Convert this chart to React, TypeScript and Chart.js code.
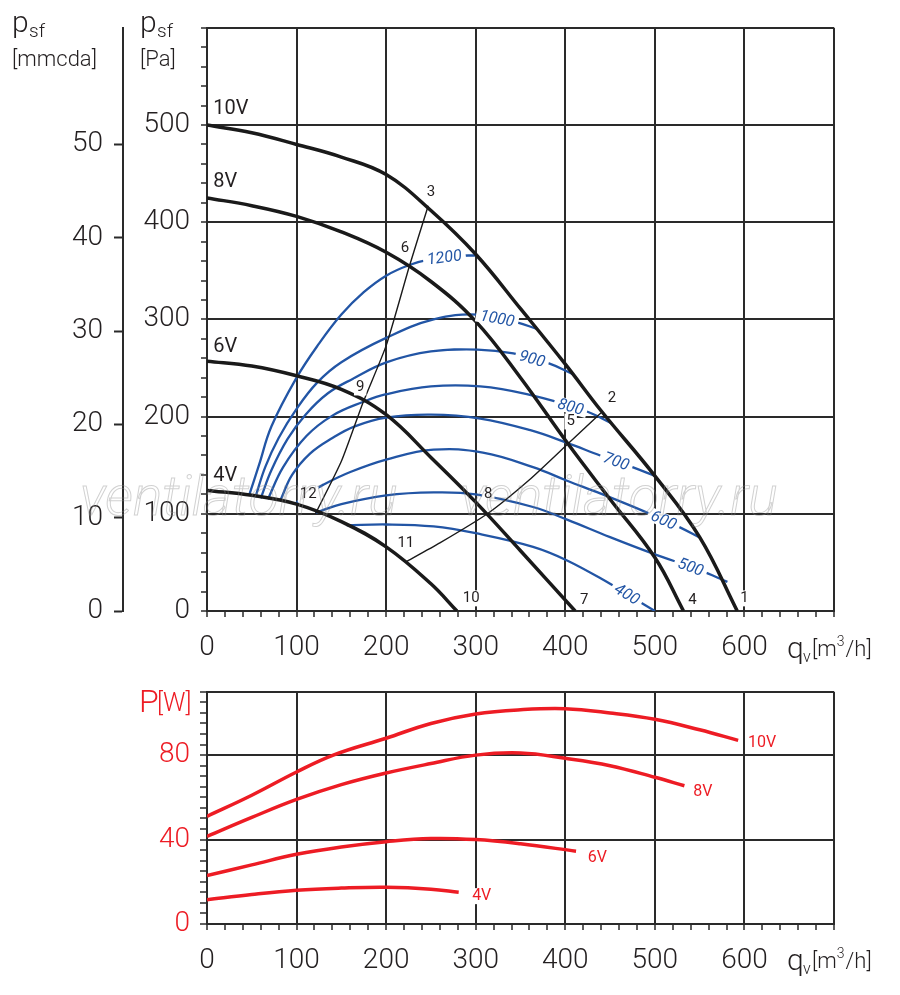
import { useEffect, useRef } from 'react';
import Chart from 'chart.js/auto';

const FONT = 'Roboto, "DejaVu Sans", sans-serif';
const INK = '#231f20';
const GRID = '#2a2a2a';
const BLUE = '#2255a5';
const RED = '#ed1c24';

// ---- pressure chart: qv [m3/h] -> psf [Pa]
const fan10V = [[0, 500], [50, 492], [100, 480], [150, 467], [200, 449], [250, 412], [300, 367], [350, 311], [400, 254], [440, 206], [500, 139], [550, 76], [592, 0]];
const fan8V = [[0, 425], [50, 417], [100, 406], [150, 390], [200, 369], [250, 339], [300, 298], [350, 240], [403, 172], [450, 115], [500, 55], [532, 0]];
const fan6V = [[0, 257], [50, 252], [100, 242], [150, 228], [200, 202], [250, 158], [300, 112], [350, 62], [411, 0]];
const fan4V = [[0, 124], [50, 119], [100, 110], [150, 92], [200, 66], [250, 28], [279, 0]];
const fanNames = ['10V', '8V', '6V', '4V'];
const fanLabelP = [516, 441, 272, 139];

// system lines through the operating points
const lineA = [[121, 100], [150, 154], [174, 214], [200, 273], [226, 355], [247, 417]];
const lineB = [[221, 50], [260, 70], [313, 100], [360, 135], [403, 172], [440, 204]];

// iso curves (blue)
const rpm1200 = [[47, 119], [58, 150], [72, 190], [100, 240], [125, 275], [150, 305], [175, 328], [200, 345], [226, 356], [250, 362], [275, 365], [302, 366]];
const rpm1000 = [[54, 117], [65, 148], [80, 178], [100, 208], [123, 235], [150, 256], [200, 281], [253, 300], [302, 305], [346, 297], [369, 290]];
const rpm900 = [[60, 116], [72, 145], [90, 177], [110, 202], [135, 224], [163, 239], [201, 256], [250, 267], [302, 269], [342, 265], [381, 255], [408, 244]];
const rpm800 = [[68, 115], [85, 148], [111, 180], [140, 201], [174, 215], [200, 223], [250, 231], [305, 231], [357, 223], [422, 206], [452, 193]];
const rpm700 = [[82, 114], [95, 140], [115, 162], [140, 178], [165, 190], [200, 199], [250, 202], [305, 198], [361, 186], [402, 173], [439, 160], [475, 148], [500, 139]];
const rpm600 = [[98, 110], [112, 120], [130, 130], [160, 143], [201, 156], [253, 166], [308, 163], [364, 148], [402, 134], [439, 121], [492, 101], [528, 86], [551, 75]];
const rpm500 = [[121, 101], [150, 110], [200, 119], [253, 122], [300, 120], [364, 107], [402, 94], [450, 76], [498, 59], [550, 42], [581, 30]];
const rpm400 = [[156, 88], [200, 89], [253, 87], [300, 80], [364, 66], [402, 52], [450, 28], [475, 14], [500, 0]];
const rpmCurves = [rpm1200, rpm1000, rpm900, rpm800, rpm700, rpm600, rpm500, rpm400];
const rpmNames = ['1200', '1000', '900', '800', '700', '600', '500', '400'];
const rpmLabelQ = [265, 324, 363, 406, 457, 510, 540, 469];

// numbered operating points
const opNames = ['1', '2', '3', '4', '5', '6', '7', '8', '9', '10', '11', '12'];
const opQ = [600, 452, 250, 542, 406, 221, 421, 314, 171, 295, 222, 113];
const opP = [13, 219, 431, 11, 195, 373, 11, 120, 230, 13, 70, 120];
const opBoxed = ['1', '5', '8', '9', '10', '12'];

// ---- power chart: qv [m3/h] -> P [W]
const pow10V = [[0, 51], [50, 61], [100, 72], [141, 80], [200, 88], [250, 95], [300, 99.5], [350, 101.5], [400, 102], [450, 100], [500, 97], [550, 92], [593, 87]];
const pow8V = [[0, 41.5], [50, 50.5], [100, 59], [150, 66], [200, 71.5], [250, 76], [300, 80], [350, 81], [400, 78.5], [450, 75], [500, 69.5], [533, 65.5]];
const pow6V = [[0, 23], [50, 28], [100, 33], [150, 36.5], [200, 39], [250, 40.5], [300, 40], [350, 38], [412, 34.5]];
const pow4V = [[0, 11.5], [50, 14], [100, 16], [150, 17], [200, 17.4], [250, 16.5], [281, 15]];
const powLabelQ = [604, 543, 425, 296];
const powLabelP = [85.6, 62.5, 31.5, 13.2];

const pts = (c: number[][]) => c.map(([x, y]) => ({ x, y }));

const interp = (c: number[][], q: number) => {
    for (let i = 1; i < c.length; i++) {
        const [q0, p0] = c[i - 1];
        const [q1, p1] = c[i];
        if (q <= q1) return p0 + (p1 - p0) * (q - q0) / (q1 - q0);
    }
    return c[c.length - 1][1];
};

const line = (data: number[][], color: string, width: number, tension = 0.4) => ({
    data: pts(data),
    borderColor: color,
    borderWidth: width,
    pointRadius: 0,
    tension,
    fill: false,
});

const tickFont = { family: FONT, size: 28, weight: '300' };

const xAxis = (height: number) => ({
    type: 'linear',
    min: 0,
    max: 700,
    ticks: {
        stepSize: 20,
        autoSkip: false,
        maxRotation: 0,
        padding: 14,
        color: INK,
        font: tickFont,
        callback: (v: number) => (v % 100 === 0 && v < 700 ? String(v) : ''),
    },
    grid: {
        color: (c: any) => (c.tick && c.tick.value % 100 === 0 ? GRID : 'rgba(0,0,0,0)'),
        tickColor: GRID,
        lineWidth: 2,
        tickWidth: 1.5,
        tickLength: 6,
    },
    border: { color: GRID, width: 2 },
    afterFit: (s: any) => { s.height = height; },
});

// q_v [m³/h] caption right of the x axis
const drawQvTitle = (ctx: CanvasRenderingContext2D, x: number, y: number) => {
    ctx.fillStyle = INK;
    ctx.textAlign = 'left';
    ctx.textBaseline = 'alphabetic';
    ctx.font = `300 30px ${FONT}`;
    ctx.fillText('q', x, y);
    ctx.font = `300 16px ${FONT}`;
    ctx.fillText('v', x + 16, y + 4);
    ctx.font = `300 22px ${FONT}`;
    ctx.fillText('[m', x + 25, y - 2);
    const w = ctx.measureText('[m').width;
    ctx.font = `300 14px ${FONT}`;
    ctx.fillText('3', x + 25 + w, y - 12);
    const w3 = ctx.measureText('3').width;
    ctx.font = `300 22px ${FONT}`;
    ctx.fillText('/h]', x + 26 + w + w3, y - 2);
};

const pressureDecor = {
    id: 'pressureDecor',
    afterDatasetsDraw(chart: any) {
        const { ctx } = chart;
        const x = chart.scales.x;
        const y = chart.scales.y;
        ctx.save();

        // labels sitting in the blue curves
        ctx.font = `italic 16px ${FONT}`;
        ctx.textAlign = 'center';
        ctx.textBaseline = 'middle';
        rpmCurves.forEach((c, i) => {
            const q = rpmLabelQ[i];
            const px = x.getPixelForValue(q);
            const py = y.getPixelForValue(interp(c, q));
            const ax = x.getPixelForValue(q - 10);
            const ay = y.getPixelForValue(interp(c, q - 10));
            const bx = x.getPixelForValue(q + 10);
            const by = y.getPixelForValue(interp(c, q + 10));
            const ang = Math.atan2(by - ay, bx - ax);
            const w = ctx.measureText(rpmNames[i]).width;
            ctx.save();
            ctx.translate(px, py);
            ctx.rotate(ang);
            ctx.fillStyle = '#fff';
            ctx.fillRect(-w / 2 - 4, -7, w + 8, 14);
            ctx.fillStyle = BLUE;
            ctx.fillText(rpmNames[i], 0, 1);
            ctx.restore();
        });

        // numbered points
        ctx.font = `15px ${FONT}`;
        opNames.forEach((n, i) => {
            const px = x.getPixelForValue(opQ[i]);
            const py = y.getPixelForValue(opP[i]);
            if (opBoxed.includes(n)) {
                const w = ctx.measureText(n).width;
                ctx.fillStyle = '#fff';
                ctx.fillRect(px - w / 2 - 2, py - 8, w + 4, 16);
            }
            ctx.fillStyle = INK;
            ctx.fillText(n, px, py);
        });

        // fan voltage labels
        ctx.font = `20px ${FONT}`;
        ctx.textAlign = 'left';
        fanNames.forEach((n, i) => {
            ctx.fillStyle = INK;
            ctx.fillText(n, x.getPixelForValue(7), y.getPixelForValue(fanLabelP[i]));
        });

        // axis captions
        ctx.textBaseline = 'alphabetic';
        [[12, '[mmcda]'], [140, '[Pa]']].forEach(([lx, unit]: any) => {
            ctx.fillStyle = INK;
            ctx.font = `300 30px ${FONT}`;
            ctx.fillText('p', lx, 32);
            ctx.font = `300 19px ${FONT}`;
            ctx.fillText('sf', lx + 17, 37);
            ctx.font = `300 22px ${FONT}`;
            ctx.fillText(unit, lx, 66);
        });
        drawQvTitle(ctx, 787, 658);

        // watermark
        ctx.font = `italic 300 55px ${FONT}`;
        ctx.strokeStyle = 'rgba(140,140,140,0.4)';
        ctx.lineWidth = 1;
        ctx.strokeText('ventilatorry.ru', 80, 515);
        ctx.strokeText('ventilatorry.ru', 460, 515);
        ctx.restore();
    },
};

const powerDecor = {
    id: 'powerDecor',
    afterDatasetsDraw(chart: any) {
        const { ctx } = chart;
        const x = chart.scales.x;
        const y = chart.scales.y;
        ctx.save();
        ctx.textAlign = 'left';
        ctx.textBaseline = 'middle';
        ctx.font = `16px ${FONT}`;
        fanNames.forEach((n, i) => {
            const px = x.getPixelForValue(powLabelQ[i]);
            const py = y.getPixelForValue(powLabelP[i]);
            const w = ctx.measureText(n).width;
            ctx.fillStyle = '#fff';
            ctx.fillRect(px - 2, py - 8, w + 4, 16);
            ctx.fillStyle = RED;
            ctx.fillText(n, px, py);
        });
        ctx.fillStyle = RED;
        ctx.textBaseline = 'alphabetic';
        ctx.font = `300 32px ${FONT}`;
        ctx.fillText('P', 139, 47);
        ctx.font = `300 25px ${FONT}`;
        ctx.fillText('[W]', 157, 46);
        drawQvTitle(ctx, 787, 305);
        ctx.restore();
    },
};

const PressureChart = () => {
    const ref = useRef<HTMLCanvasElement | null>(null);

    useEffect(() => {
        if (!ref.current) return;
        const chart = new Chart(ref.current, {
            type: 'line',
            data: {
                datasets: [
                    line(fan10V, '#1a1a1a', 3.5),
                    line(fan8V, '#1a1a1a', 3.5),
                    line(fan6V, '#1a1a1a', 3.5),
                    line(fan4V, '#1a1a1a', 3.5),
                    line(lineA, '#1a1a1a', 1.4, 0.2),
                    line(lineB, '#1a1a1a', 1.4, 0.2),
                    ...rpmCurves.map((c) => line(c, BLUE, 2.3)),
                ],
            } as any,
            options: {
                responsive: false,
                animation: false,
                layout: { padding: { top: 25, right: 66, left: 0, bottom: 0 } },
                plugins: { legend: { display: false }, tooltip: { enabled: false } },
                scales: {
                    x: xAxis(54),
                    y: {
                        type: 'linear',
                        position: 'left',
                        min: 0,
                        max: 600,
                        ticks: {
                            stepSize: 20,
                            autoSkip: false,
                            padding: 11,
                            color: INK,
                            font: tickFont,
                            callback: (v: number) => (v % 100 === 0 && v < 600 ? String(v) : ''),
                        },
                        grid: {
                            color: (c: any) => (c.tick && c.tick.value % 100 === 0 ? GRID : 'rgba(0,0,0,0)'),
                            tickColor: GRID,
                            lineWidth: 2,
                            tickWidth: 1.5,
                            tickLength: 6,
                        },
                        border: { color: GRID, width: 2 },
                        afterFit: (s: any) => { s.width = 84; },
                    },
                    y2: {
                        type: 'linear',
                        position: 'left',
                        weight: 1,
                        min: 0,
                        max: 62.5,
                        afterBuildTicks: (s: any) => { s.ticks = s.ticks.filter((t: any) => t.value <= 50); },
                        ticks: { stepSize: 10, padding: 11, color: INK, font: tickFont },
                        grid: { drawOnChartArea: false, tickColor: GRID, tickWidth: 2, tickLength: 9 },
                        border: { color: GRID, width: 2 },
                        afterFit: (s: any) => { s.width = 123; },
                    },
                },
            } as any,
            plugins: [pressureDecor],
        });
        return () => chart.destroy();
    }, []);

    return <canvas ref={ref} width={900} height={665} style={{ display: 'block' }} />;
};

const PowerChart = () => {
    const ref = useRef<HTMLCanvasElement | null>(null);

    useEffect(() => {
        if (!ref.current) return;
        const chart = new Chart(ref.current, {
            type: 'line',
            data: {
                datasets: [pow10V, pow8V, pow6V, pow4V].map((c) => line(c, RED, 3.5)),
            } as any,
            options: {
                responsive: false,
                animation: false,
                layout: { padding: { top: 25, right: 66, left: 0, bottom: 0 } },
                plugins: { legend: { display: false }, tooltip: { enabled: false } },
                scales: {
                    x: xAxis(71),
                    y: {
                        type: 'linear',
                        position: 'left',
                        min: 0,
                        max: 110,
                        ticks: {
                            stepSize: 5,
                            autoSkip: false,
                            padding: 10,
                            color: RED,
                            font: tickFont,
                            callback: (v: number) => (v % 40 === 0 ? String(v) : ''),
                        },
                        grid: {
                            color: (c: any) => (c.tick && (c.tick.value % 40 === 0 || c.tick.value === 110) ? GRID : 'rgba(0,0,0,0)'),
                            tickColor: GRID,
                            lineWidth: 2,
                            tickWidth: 1.5,
                            tickLength: 7,
                        },
                        border: { color: GRID, width: 2 },
                        afterFit: (s: any) => { s.width = 207; },
                    },
                },
            } as any,
            plugins: [powerDecor],
        });
        return () => chart.destroy();
    }, []);

    return <canvas ref={ref} width={900} height={330} style={{ display: 'block' }} />;
};

export default function App() {
    useEffect(() => {
        document.body.style.margin = '0';
    }, []);

    return (
        <div style={{ width: 900, height: 995, background: '#fff' }}>
            <PressureChart />
            <PowerChart />
        </div>
    );
}
